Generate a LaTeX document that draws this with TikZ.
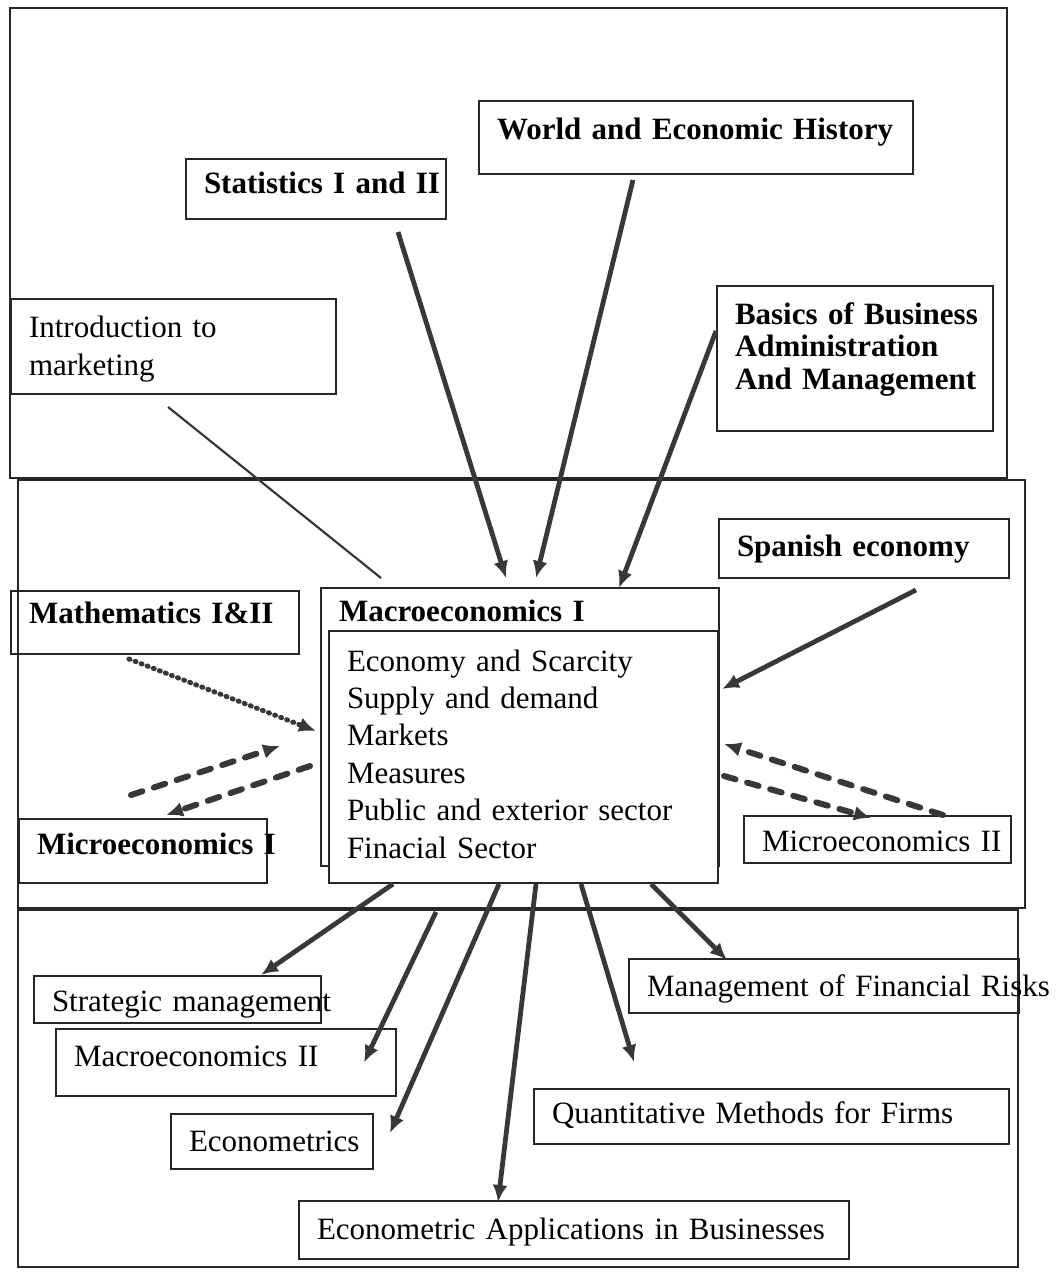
\documentclass[tikz,border=0pt]{standalone}
\usepackage{fontspec}
\setmainfont{Liberation Serif}
\usetikzlibrary{positioning, arrows.meta}
\definecolor{inkgray}{HTML}{383838}
\definecolor{boxgray}{HTML}{262626}

\begin{document}
\begin{tikzpicture}[x=1pt, y=-1pt,
    frame/.style={draw=boxgray, line width=2.4pt},
    box/.style={rectangle, draw=boxgray, line width=2pt, anchor=north west, inner xsep=18pt, inner ysep=0pt, align=left, font=\fontsize{31}{37}\selectfont},
    bbox/.style={box, font=\fontsize{31}{37}\selectfont\bfseries},
    flow/.style={-{Latex[length=17pt, width=15pt]}, line width=4.8pt, inkgray},
    link/.style={line width=2.2pt, inkgray},
    dashflow/.style={flow, line width=6pt, line cap=round, dash pattern=on 12pt off 12pt},
    dotflow/.style={flow, line width=5pt, line cap=round, dash pattern=on 1pt off 5.5pt}]
      \useasboundingbox (0,0) rectangle (1057,1272);
      % Frames
      \draw[frame] (10,8) rectangle (1007,478);
      \draw[frame] (18,480) rectangle (1025,908);
      \draw[frame] (18,910) rectangle (1018,1267);

      % Prerequisites
      \node[bbox, text width=398pt, text height=38.5pt, text depth=34.5pt] (world) at (478,100) {\mbox{World and Economic History}};
      \node[bbox, text width=224pt, text height=34.5pt, text depth=25.5pt] (stat) at (185,158) {\mbox{Statistics I and II}};
      \node[box, text width=289pt, text height=38pt, text depth=57pt, font=\fontsize{31}{38}\selectfont] (intro) at (10,298) {Introduction to\\marketing};
      \node[bbox, text width=240pt, text height=38pt, text depth=107pt, font=\fontsize{31}{32.5}\selectfont\bfseries] (basics) at (716,285) {\mbox{Basics of Business}\\Administration\\\mbox{And Management}};
      \node[bbox, text width=254pt, text height=37.5pt, text depth=21.5pt] (spanish) at (718,518) {Spanish economy};
      \node[bbox, text width=252pt, text height=32.5pt, text depth=30.5pt] (math) at (10,590) {Mathematics I\&II};
      \node[bbox, text width=212pt, text height=35.5pt, text depth=28.5pt] (micro1) at (18,818) {\mbox{Microeconomics I}};
      \node[box, text width=231pt, text height=35.5pt, text depth=11.5pt] (micro2) at (743,815) {\mbox{Microeconomics II}};

      % Macroeconomics I
      \node[bbox, text width=362pt, text height=33pt, text depth=245pt] (macro) at (320,587) {Macroeconomics I};
      \node[box, fill=white, text width=353pt, text height=40pt, text depth=212pt, font=\fontsize{31}{37.4}\selectfont] (inner) at (328,630)
        {Economy and Scarcity\\Supply and demand\\Markets\\Measures\\Public and exterior sector\\Finacial Sector};

      % Follow-up courses
      \node[box, text width=251pt, text height=35.5pt, text depth=11.5pt] (strat) at (33,975) {\mbox{Strategic management}};
      \node[box, text width=304pt, text height=37.5pt, text depth=29.5pt] (macro2) at (55,1028) {Macroeconomics II};
      \node[box, text width=166pt, text height=37.5pt, text depth=17.5pt] (econ) at (170,1113) {\mbox{Econometrics}};
      \node[box, text width=354pt, text height=37.5pt, text depth=16.5pt] (mfr) at (628,958) {\mbox{Management of Financial Risks}};
      \node[box, text width=439pt, text height=34.5pt, text depth=20.5pt] (qmf) at (533,1088) {Quantitative Methods for Firms};
      \node[box, text width=514pt, text height=38.5pt, text depth=19.5pt] (eab) at (298,1200) {Econometric Applications in Businesses};

      % Into Macroeconomics I
      \draw[link] ([xshift=-5.5pt,yshift=-12pt]intro.south) -- ([xshift=-139pt,yshift=9pt]macro.north);
      \draw[flow] ([xshift=82pt,yshift=-12pt]stat.south) -- ([xshift=-14pt,yshift=9pt]macro.north);
      \draw[flow] ([xshift=-63pt,yshift=-5pt]world.south) -- ([xshift=16pt,yshift=9pt]macro.north);
      \draw[flow] ([yshift=27.5pt]basics.west) -- ([xshift=99pt,yshift=-1pt]macro.north);
      \draw[flow] ([xshift=52pt,yshift=-11pt]spanish.south) -- ([xshift=3pt,yshift=68pt]inner.east);
      \draw[dotflow] ([xshift=-26pt,yshift=-4pt]math.south) -- ([xshift=-4pt,yshift=-4pt]macro.west);

      % Both ways with Microeconomics
      \draw[dashflow] ([xshift=-12pt,yshift=23pt]micro1.north) -- ([xshift=-40pt,yshift=-19pt]macro.west);
      \draw[dashflow] ([xshift=-10pt,yshift=-39pt]macro.west) -- ([xshift=23pt,yshift=3pt]micro1.north);
      \draw[dashflow] ([xshift=65.5pt]micro2.north) -- ([xshift=5pt,yshift=13pt]inner.east);
      \draw[dashflow] ([xshift=5pt,yshift=-19pt]inner.east) -- ([xshift=-6.5pt,yshift=-3pt]micro2.north);

      % Out of Macroeconomics I
      \draw[flow] ([xshift=-130.5pt]inner.south) -- ([xshift=83.5pt]strat.north);
      \draw[flow] ([xshift=-87.5pt,yshift=-28pt]inner.south) -- ([xshift=-33pt]macro2.east);
      \draw[flow] ([xshift=-24.5pt]inner.south) -- ([xshift=16pt,yshift=8.5pt]econ.east);
      \draw[flow] ([xshift=12.5pt]inner.south) -- ([xshift=-76pt,yshift=-2pt]eab.north);
      \draw[flow] ([xshift=57.5pt]inner.south) -- ([xshift=-137.5pt,yshift=26pt]qmf.north);
      \draw[flow] ([xshift=127.5pt]inner.south) -- ([xshift=-97pt,yshift=-2pt]mfr.north);
    \end{tikzpicture}
\end{document}
